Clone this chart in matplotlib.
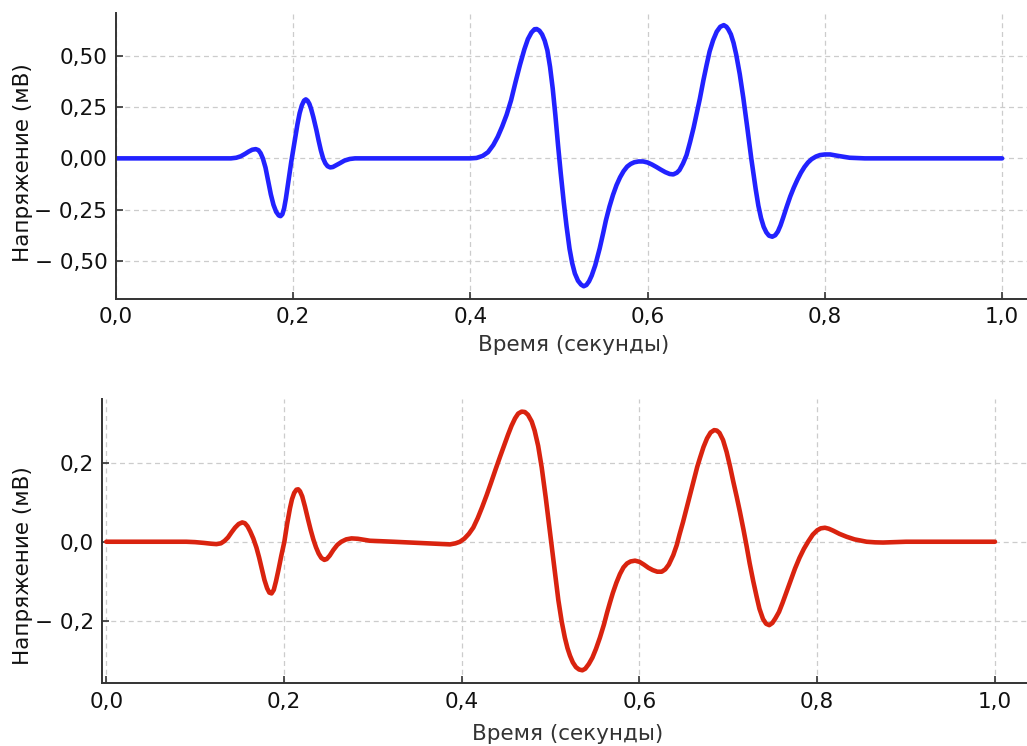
import matplotlib
matplotlib.use("Agg")
import matplotlib.pyplot as plt

# ---------------- data ----------------
t_top = [0.000, 0.130, 0.136, 0.141, 0.146, 0.150, 0.154, 0.158, 0.161, 0.1635,
         0.166, 0.169, 0.172, 0.175, 0.178, 0.181, 0.184, 0.186, 0.188, 0.190,
         0.192, 0.194, 0.196, 0.198, 0.200, 0.2025, 0.205, 0.2075, 0.210, 0.2125,
         0.2145, 0.2165, 0.2185, 0.2205, 0.223, 0.2264, 0.229, 0.2315, 0.234, 0.2365,
         0.239, 0.242, 0.245, 0.248, 0.2527, 0.258, 0.264, 0.270,
         0.400, 0.407, 0.414, 0.420, 0.426, 0.431, 0.436, 0.441, 0.446, 0.451,
         0.456, 0.461, 0.465, 0.469, 0.4725, 0.475, 0.478, 0.481, 0.484, 0.487,
         0.490, 0.493, 0.496, 0.499, 0.502, 0.5055, 0.5086, 0.512, 0.515, 0.518,
         0.5215, 0.525, 0.528, 0.531, 0.534, 0.537, 0.541, 0.546, 0.550, 0.553,
         0.557, 0.561, 0.565, 0.569, 0.573, 0.577, 0.581, 0.585, 0.590, 0.595,
         0.600, 0.605, 0.610, 0.615, 0.620, 0.625, 0.629, 0.633, 0.636, 0.640,
         0.644, 0.648, 0.652, 0.655, 0.659, 0.663, 0.6666, 0.670, 0.674, 0.678,
         0.682, 0.686, 0.689, 0.691, 0.694, 0.697, 0.700, 0.704, 0.708, 0.7125,
         0.717, 0.722, 0.725, 0.728, 0.731, 0.734, 0.737, 0.7407, 0.744, 0.747,
         0.750, 0.753, 0.757, 0.761, 0.765, 0.769, 0.773, 0.777, 0.781, 0.785,
         0.790, 0.7945, 0.800, 0.806, 0.815, 0.828, 0.845, 1.000]
v_top = [0.000, 0.000, 0.003, 0.010, 0.022, 0.033, 0.042, 0.045, 0.040, 0.025,
         0.000, -0.045, -0.110, -0.175, -0.226, -0.260, -0.278, -0.281, -0.272, -0.243,
         -0.195, -0.135, -0.075, -0.018, 0.035, 0.100, 0.165, 0.220, 0.258, 0.281,
         0.287, 0.280, 0.265, 0.240, 0.200, 0.138, 0.085, 0.038, 0.000, -0.024,
         -0.038, -0.044, -0.042, -0.035, -0.024, -0.011, -0.003, 0.000,
         0.000, 0.002, 0.012, 0.030, 0.065, 0.105, 0.155, 0.212, 0.282, 0.370,
         0.454, 0.530, 0.580, 0.612, 0.628, 0.629, 0.621, 0.603, 0.572, 0.525,
         0.445, 0.340, 0.210, 0.065, -0.070, -0.215, -0.330, -0.440, -0.510, -0.560,
         -0.595, -0.614, -0.622, -0.616, -0.598, -0.570, -0.520, -0.438, -0.362, -0.302,
         -0.235, -0.178, -0.130, -0.092, -0.062, -0.040, -0.027, -0.019, -0.015, -0.015,
         -0.020, -0.030, -0.042, -0.055, -0.067, -0.076, -0.078, -0.070, -0.057, -0.025,
         0.016, 0.080, 0.150, 0.211, 0.290, 0.380, 0.454, 0.520, 0.575, 0.616,
         0.640, 0.648, 0.640, 0.628, 0.603, 0.562, 0.505, 0.410, 0.295, 0.150,
         0.000, -0.150, -0.230, -0.290, -0.333, -0.360, -0.376, -0.381, -0.374, -0.356,
         -0.326, -0.288, -0.235, -0.185, -0.142, -0.104, -0.070, -0.042, -0.020, -0.004,
         0.009, 0.016, 0.019, 0.019, 0.012, 0.003, 0.000, 0.000]

t_bot = [0.000, 0.090, 0.100, 0.110, 0.118, 0.124, 0.129, 0.133, 0.137, 0.141,
         0.145, 0.149, 0.153, 0.156, 0.159, 0.162, 0.1655, 0.169, 0.172, 0.175,
         0.178, 0.181, 0.1835, 0.186, 0.1885, 0.191, 0.1937, 0.197, 0.2004, 0.2035,
         0.2067, 0.209, 0.2115, 0.214, 0.216, 0.218, 0.2205, 0.2236, 0.227, 0.230,
         0.233, 0.236, 0.239, 0.242, 0.2454, 0.248, 0.2515, 0.2555, 0.260, 0.2645,
         0.270, 0.276, 0.283, 0.2968, 0.323, 0.3606, 0.3868, 0.393, 0.398, 0.403,
         0.408, 0.413, 0.418, 0.423, 0.428, 0.433, 0.438, 0.443, 0.448, 0.452,
         0.456, 0.460, 0.4635, 0.4674, 0.471, 0.4745, 0.4787, 0.482, 0.486, 0.490,
         0.4945, 0.4993, 0.504, 0.5087, 0.5125, 0.516, 0.519, 0.5218, 0.525, 0.5285,
         0.532, 0.5357, 0.539, 0.543, 0.547, 0.551, 0.5555, 0.560, 0.5635, 0.5668,
         0.570, 0.574, 0.578, 0.582, 0.586, 0.590, 0.595, 0.600, 0.605, 0.610,
         0.615, 0.620, 0.625, 0.629, 0.633, 0.638, 0.642, 0.645, 0.649, 0.653,
         0.657, 0.661, 0.665, 0.668, 0.672, 0.676, 0.680, 0.684, 0.687, 0.690,
         0.694, 0.698, 0.702, 0.7055, 0.7094, 0.713, 0.717, 0.7206, 0.724, 0.728,
         0.7319, 0.735, 0.739, 0.7425, 0.746, 0.7495, 0.753, 0.757, 0.761, 0.765,
         0.770, 0.775, 0.780, 0.785, 0.790, 0.795, 0.800, 0.804, 0.8087, 0.813,
         0.818, 0.825, 0.833, 0.842, 0.8556, 0.865, 0.874, 0.900, 1.000]
v_bot = [0.000, 0.000, -0.001, -0.003, -0.005, -0.006, -0.004, 0.002, 0.011, 0.024,
         0.036, 0.045, 0.049, 0.047, 0.039, 0.026, 0.008, -0.015, -0.040, -0.068,
         -0.097, -0.118, -0.129, -0.131, -0.122, -0.100, -0.072, -0.035, 0.000, 0.045,
         0.085, 0.108, 0.124, 0.132, 0.133, 0.128, 0.115, 0.089, 0.057, 0.030,
         0.006, -0.014, -0.030, -0.041, -0.046, -0.044, -0.035, -0.021, -0.008, 0.000,
         0.006, 0.0085, 0.0075, 0.0025, 0.000, -0.004, -0.0067, -0.004, 0.000, 0.008,
         0.020, 0.036, 0.060, 0.088, 0.118, 0.150, 0.183, 0.215, 0.246, 0.271,
         0.294, 0.313, 0.325, 0.330, 0.329, 0.322, 0.305, 0.282, 0.243, 0.188,
         0.112, 0.025, -0.062, -0.148, -0.203, -0.243, -0.270, -0.289, -0.306, -0.318,
         -0.324, -0.326, -0.322, -0.310, -0.294, -0.272, -0.243, -0.210, -0.180, -0.154,
         -0.130, -0.104, -0.082, -0.065, -0.055, -0.050, -0.048, -0.051, -0.058, -0.066,
         -0.072, -0.076, -0.076, -0.070, -0.058, -0.034, -0.008, 0.018, 0.050, 0.085,
         0.120, 0.155, 0.190, 0.212, 0.240, 0.262, 0.277, 0.283, 0.282, 0.276,
         0.258, 0.228, 0.190, 0.153, 0.114, 0.076, 0.031, -0.012, -0.055, -0.100,
         -0.140, -0.170, -0.196, -0.208, -0.2115, -0.206, -0.194, -0.178, -0.155, -0.130,
         -0.098, -0.068, -0.041, -0.018, 0.001, 0.018, 0.029, 0.034, 0.0355, 0.033,
         0.028, 0.020, 0.0127, 0.006, 0.000, -0.0015, -0.002, 0.000, 0.000]

x_ticks = [0.0, 0.2, 0.4, 0.6, 0.8, 1.0]
x_ticklabels = ["0,0", "0,2", "0,4", "0,6", "0,8", "1,0"]
y_ticks_top = [-0.5, -0.25, 0.0, 0.25, 0.5]
y_ticklabels_top = ["\u2212 0,50", "\u2212 0,25", "0,00", "0,25", "0,50"]
y_ticks_bot = [-0.2, 0.0, 0.2]
y_ticklabels_bot = ["\u2212 0,2", "0,0", "0,2"]

xlabel = "Время (секунды)"
ylabel = "Напряжение (мВ)"

# ---------------- figure ----------------
plt.rcParams['font.family'] = ['DejaVu Sans']
W, H = 1027, 746
fig = plt.figure(figsize=(W / 100, H / 100), dpi=100)


def px_axes(left, right, top, bottom):
    return fig.add_axes([left / W, (H - bottom) / H, (right - left) / W, (bottom - top) / H])


ax1 = px_axes(115.7, 1032, 13, 299)
ax2 = px_axes(102, 1033, 399, 683.3)


def style(ax, xlim, ylim, yticks, yticklabels):
    ax.set_xlim(*xlim)
    ax.set_ylim(*ylim)
    ax.set_xticks(x_ticks)
    ax.set_xticklabels(x_ticklabels)
    ax.set_yticks(yticks)
    ax.set_yticklabels(yticklabels)
    for s in ("top", "right"):
        ax.spines[s].set_visible(False)
    for s in ("left", "bottom"):
        ax.spines[s].set_color("#333333")
        ax.spines[s].set_linewidth(1.4)
    ax.tick_params(direction="in", length=5, width=1.2, color="#333333",
                   labelsize=15.5, pad=6, labelcolor="#111111")
    ax.grid(True, linestyle=(0, (4, 3)), color="#cccccc", linewidth=0.9)
    ax.set_axisbelow(True)
    ax.set_xlabel(xlabel, fontsize=15.5, color="#333333")
    ax.set_ylabel(ylabel, fontsize=15.5, color="#111111")


style(ax1, (0.0, 1.0337), (-0.684, 0.707), y_ticks_top, y_ticklabels_top)
style(ax2, (-0.0048, 1.0428), (-0.359, 0.362), y_ticks_bot, y_ticklabels_bot)

ax1.plot(t_top, v_top, color="#2222ff", linewidth=3.3, solid_joinstyle="round",
         solid_capstyle="round")
ax2.plot(t_bot, v_bot, color="#d9230f", linewidth=3.3, solid_joinstyle="round",
         solid_capstyle="round")

ax1.xaxis.set_label_coords(0.5, -(335 - 299) / 286)
ax2.xaxis.set_label_coords(0.5, -(724 - 683.3) / 284.3)
ax1.yaxis.set_label_coords((33 - 115.7) / (1032 - 115.7), 0.4755)
ax2.yaxis.set_label_coords((33.5 - 102) / (1033 - 102), 0.4133)

fig.savefig("out.png", dpi=100)
